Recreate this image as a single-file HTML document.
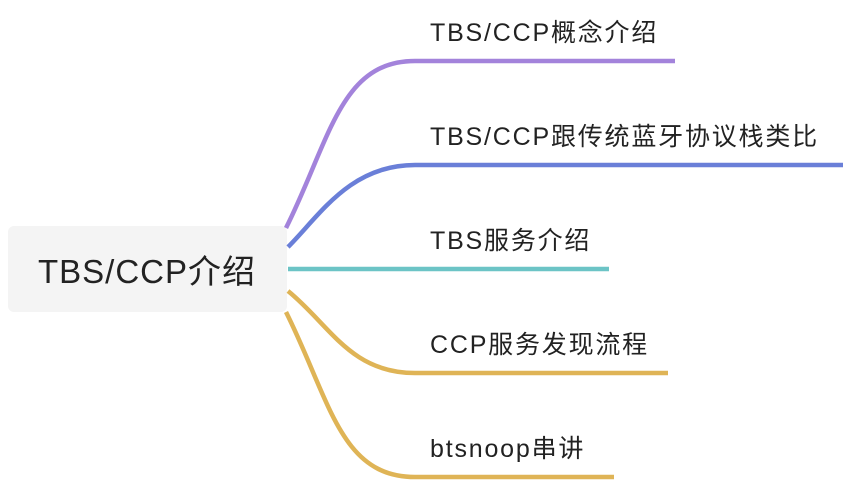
<!DOCTYPE html>
<html><head><meta charset="utf-8"><style>
body{margin:0;width:846px;height:482px;background:#fff;overflow:hidden;position:relative;font-family:"Liberation Sans","Noto Sans CJK SC",sans-serif}
.box{position:absolute;left:8px;top:226px;width:279px;height:86px;background:#f4f4f4;border-radius:6px}
.t{position:absolute;color:#222;white-space:nowrap;font-size:25px;letter-spacing:1.8px}
</style></head><body>
<div class="box"></div>
<svg width="846" height="482" style="position:absolute;left:0;top:0" fill="none" stroke-width="4.5" stroke-linecap="butt">
<path d="M286,228 C330,140 340,61 415,61 L675,61" stroke="#a383db"/>
<path d="M288,247 C320,215 350,165 415,165 L843,165" stroke="#6a7fd8"/>
<path d="M288,269 L609,269" stroke="#6cc4c6"/>
<path d="M288,291 C330,325 350,373 415,373 L668,373" stroke="#dfb456"/>
<path d="M286,312 C330,400 340,477 415,477 L614,477" stroke="#dfb456"/>
</svg>
<div class="t" style="left:38px;top:245px;font-size:33px;letter-spacing:1px">TBS/CCP介绍</div>
<div class="t" style="left:430px;top:13px">TBS/CCP概念介绍</div>
<div class="t" style="left:430px;top:117px">TBS/CCP跟传统蓝牙协议栈类比</div>
<div class="t" style="left:430px;top:221px">TBS服务介绍</div>
<div class="t" style="left:430px;top:325px">CCP服务发现流程</div>
<div class="t" style="left:430px;top:429px">btsnoop串讲</div>
</body></html>
